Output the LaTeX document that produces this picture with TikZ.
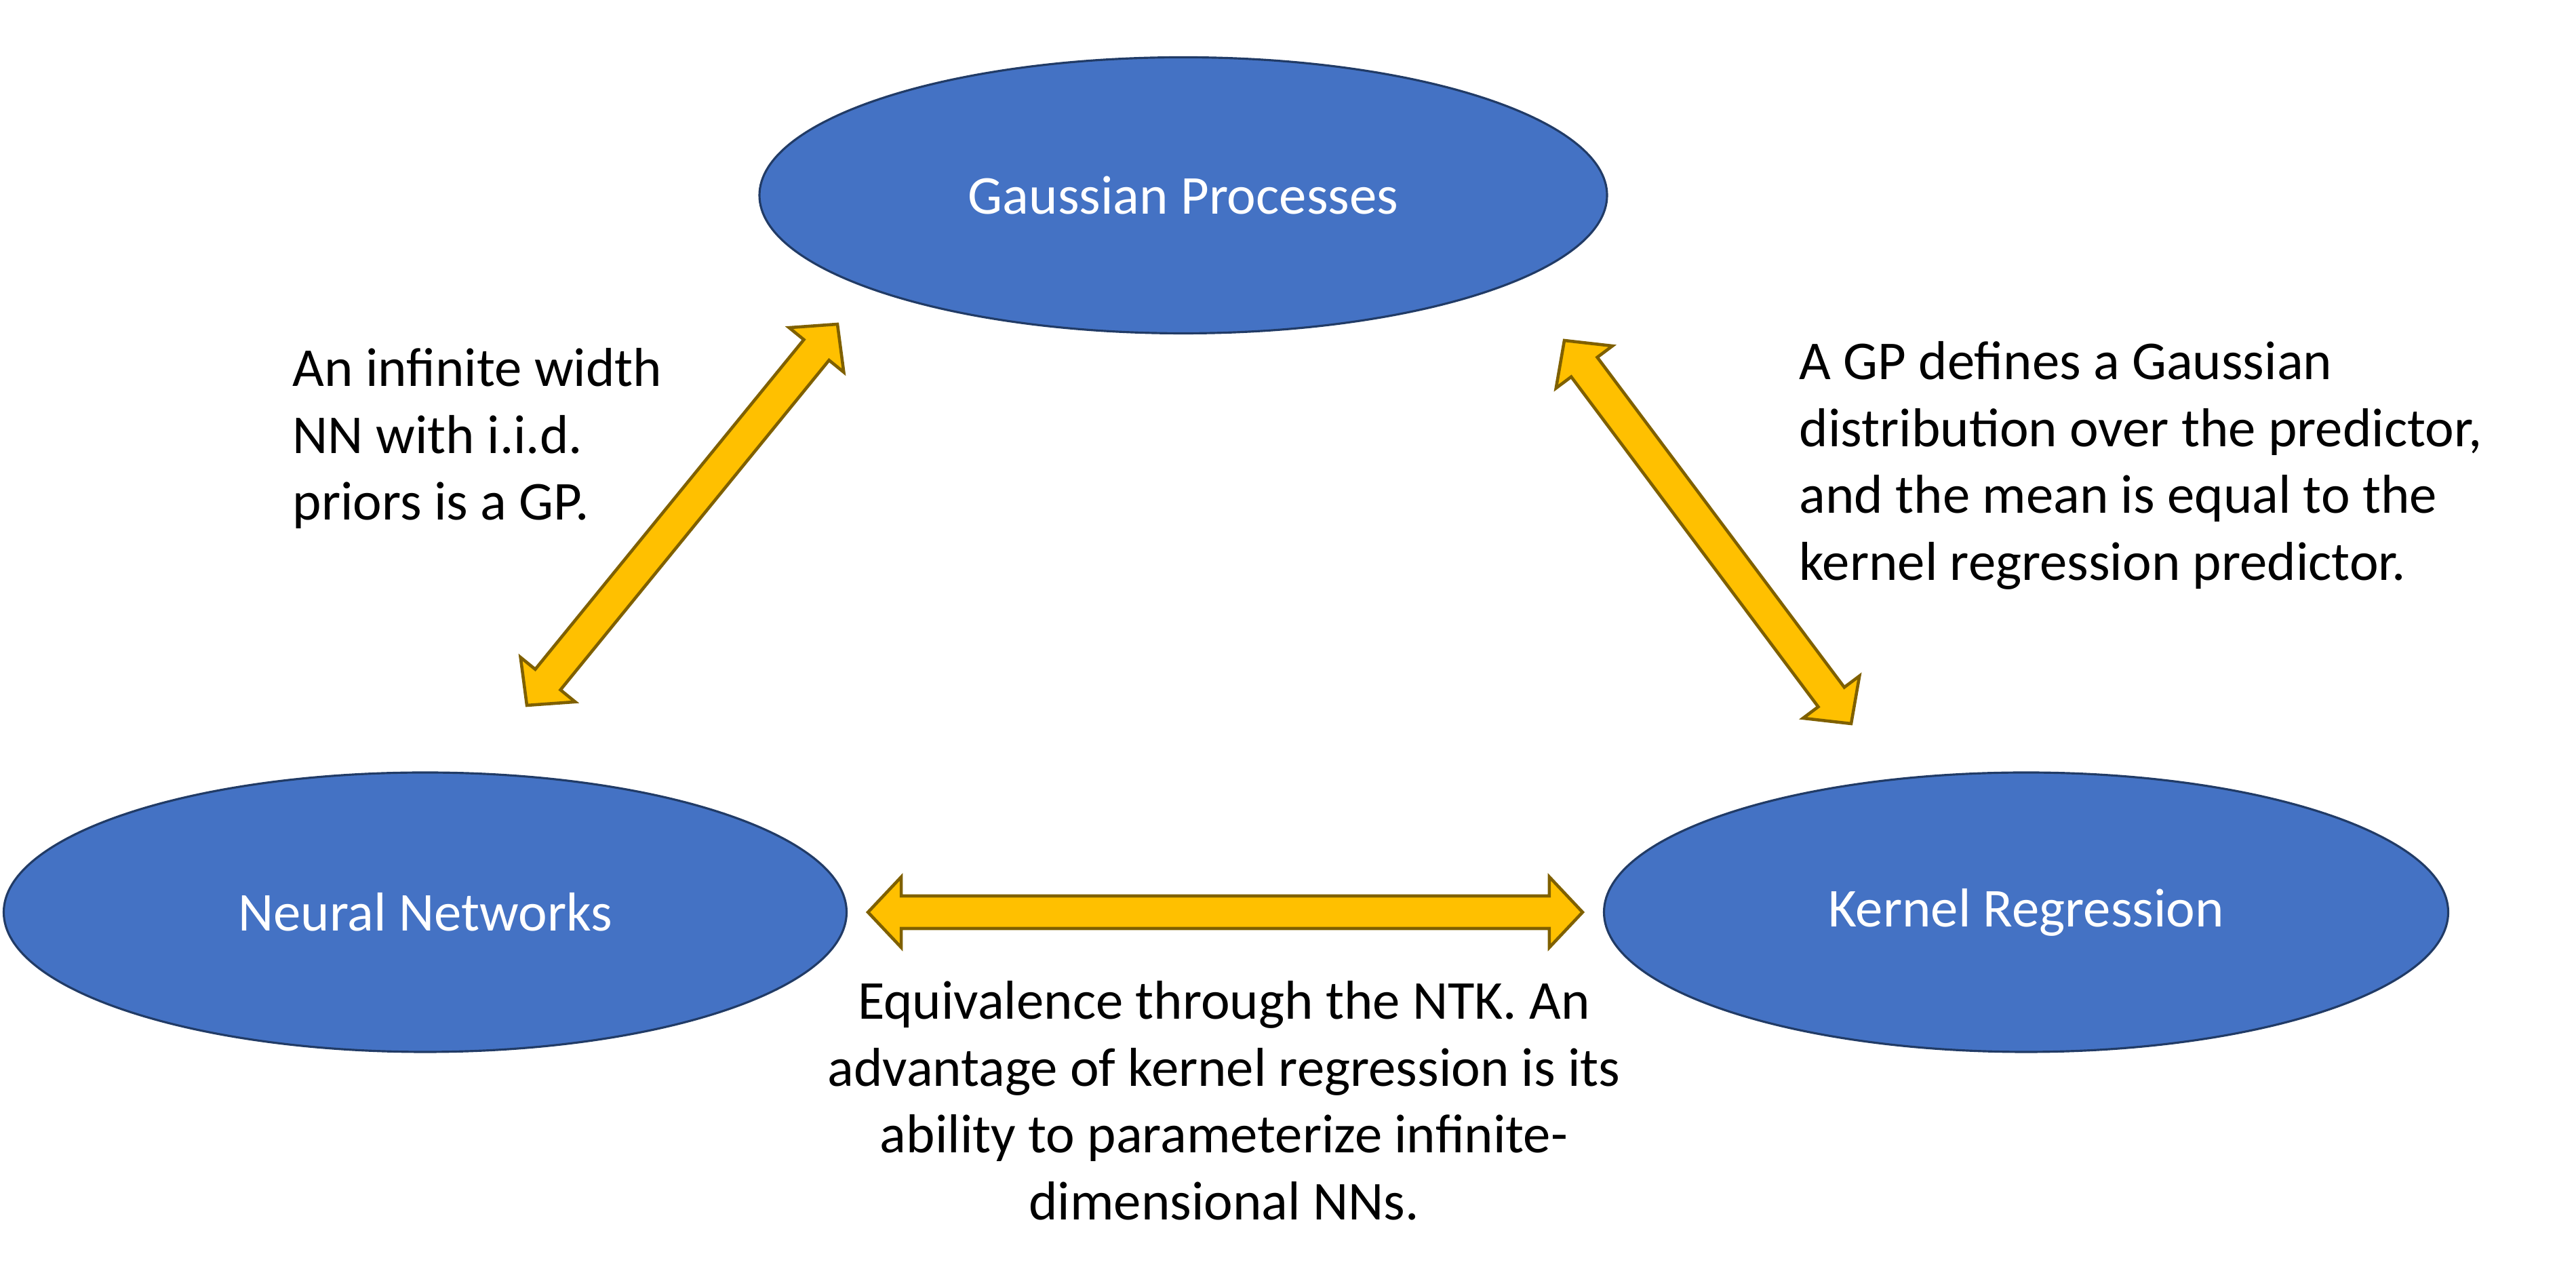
\documentclass[tikz,border=0pt]{standalone}
\usepackage{fontspec}
\setmainfont{Carlito}
\usepackage{xcolor}
\usetikzlibrary{shapes.geometric,calc,positioning}

\definecolor{blobfill}{HTML}{4472C4}
\definecolor{blobline}{HTML}{213B66}
\definecolor{linkfill}{HTML}{FFC000}
\definecolor{linkline}{HTML}{7F6000}

% fat double arrow between two named points
\newcommand{\arrowhl}{0.49cm}
\newcommand{\arrowhw}{0.52cm}
\newcommand{\arrowsw}{0.24cm}
\newcommand{\dblarrow}[2]{%
  \draw[fatarrow] (#1)
    -- ($(#1)!\arrowhl!(#2)!\arrowhw!90:(#2)$)
    -- ($(#1)!\arrowhl!(#2)!\arrowsw!90:(#2)$)
    -- ($(#2)!\arrowhl!(#1)!\arrowsw!-90:(#1)$)
    -- ($(#2)!\arrowhl!(#1)!\arrowhw!-90:(#1)$)
    -- (#2)
    -- ($(#2)!\arrowhl!(#1)!\arrowhw!90:(#1)$)
    -- ($(#2)!\arrowhl!(#1)!\arrowsw!90:(#1)$)
    -- ($(#1)!\arrowhl!(#2)!\arrowsw!-90:(#2)$)
    -- ($(#1)!\arrowhl!(#2)!\arrowhw!-90:(#2)$)
    -- cycle;}

\begin{document}
\begin{tikzpicture}[
    blob/.style={ellipse, draw=blobline, fill=blobfill, line width=0.9pt, text=white, inner sep=0pt, font=\fontsize{23}{28}\selectfont},
    note/.style={inner sep=0pt, font=\fontsize{23}{28}\selectfont},
    fatarrow/.style={draw=linkline, fill=linkfill, line width=1.3pt, line join=miter}
]
\useasboundingbox (0,0) rectangle (37.99,18.74);

\node[blob, minimum width=12.5cm, minimum height=4.07cm] (gp) at (17.45,15.86) {Gaussian Processes};
\node[blob, minimum width=12.43cm, minimum height=4.12cm] (nn) at (6.27,5.29) {Neural Networks};
\node[blob, minimum width=12.45cm, minimum height=4.12cm] (kr) at (29.88,5.29) {Kernel Regression};

% arrow tips
\coordinate (nnTop) at (7.77,8.34);
\coordinate (gpLeft) at (12.35,13.96);
\coordinate (gpRight) at (23.07,13.72);
\coordinate (krTop) at (27.30,8.07);
\coordinate (nnRight) at ($(nn.east)+(0.3,0)$);
\coordinate (krLeft) at ($(kr.west)+(-0.3,0)$);

\dblarrow{nnTop}{gpLeft}
\dblarrow{gpRight}{krTop}
\dblarrow{nnRight}{krLeft}

\node[note, align=left, anchor=north west] (gpnote) at (4.31,13.61) {An infinite width\\NN with i.i.d.\\priors is a GP.};
\node[note, align=left, anchor=north west] (krnote) at (26.53,13.71) {A GP defines a Gaussian\\distribution over the predictor,\\and the mean is equal to the\\kernel regression predictor.};
\node[note, align=center, anchor=north] (ntknote) at (18.05,4.28) {Equivalence through the NTK. An\\advantage of kernel regression is its\\ability to parameterize infinite-\\dimensional NNs.};

\end{tikzpicture}
\end{document}
